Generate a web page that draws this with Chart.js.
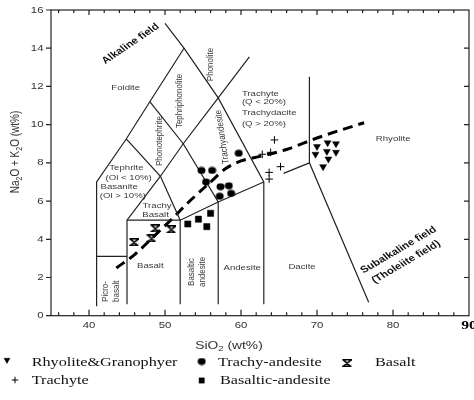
<!DOCTYPE html>
<html>
<head>
<meta charset="utf-8">
<script src="https://cdn.jsdelivr.net/npm/chart.js@4.4.1/dist/chart.umd.min.js"></script>
<style>
  html, body { margin: 0; padding: 0; background: #fff; }
  canvas { display: block; }
</style>
</head>
<body>
<canvas id="tas" width="474" height="400"></canvas>
<script>
// ---- Sample groups: SiO2 (wt%) vs Na2O + K2O (wt%) ----
const rhyoliteSiO2 = [70.0, 71.4, 72.5, 69.8, 71.3, 72.5, 71.5, 70.8];
const rhyoliteAlk  = [8.85, 9.05, 9.0, 8.45, 8.6, 8.55, 8.2, 7.8];
const trachyteSiO2 = [64.4, 62.8, 63.9, 63.7, 63.7, 65.2];
const trachyteAlk  = [9.2, 8.45, 8.55, 7.5, 7.15, 7.8];
const trAndSiO2    = [54.8, 56.2, 55.4, 57.3, 58.4, 57.2, 58.7, 59.7];
const trAndAlk     = [7.6, 7.6, 7.0, 6.75, 6.8, 6.25, 6.4, 8.5];
const basAndSiO2   = [53.0, 54.4, 56.0, 55.5];
const basAndAlk    = [4.8, 5.05, 5.36, 4.66];
const basaltSiO2   = [45.9, 48.2, 48.7, 50.8];
const basaltAlk    = [3.85, 4.05, 4.57, 4.52];

// ---- Field boundaries of the TAS classification (SiO2, alkali) ----
const fieldLines = [
  [[41, 0.5], [41, 7], [44.9, 9.25], [48, 11.2], [52.5, 14]],
  [[50, 15.3], [52.5, 14], [57, 11.4], [63, 7], [63, 0.6]],
  [[45, 0.6], [45, 5], [49.4, 7.3], [52.4, 9.0], [57, 11.4], [61.1, 13.55]],
  [[44.9, 9.25], [49.4, 7.3], [52, 5], [52, 0.6]],
  [[48, 11.2], [52.4, 9.0], [57, 5.95], [57, 0.6]],
  [[41, 3.1], [45, 3.1]],
  [[45, 5], [52, 5], [57, 5.95], [63, 7]],
  [[65.6, 7.45], [69, 8]],
  [[69, 12.5], [69, 8], [76.8, 0.7]]
];

// Alkaline / subalkaline divide
const dividerSiO2 = [43.6, 46, 48.4, 51, 53, 56, 58, 60, 62.6, 66, 70, 73, 76.2];
const dividerAlk  = [2.5, 3.2, 4.1, 5.1, 5.9, 7.0, 7.7, 8.1, 8.35, 8.7, 9.3, 9.7, 10.1];

// ---- Axis ticks ----
const xTickLabels = [40, 50, 60, 70, 80];
const xEndLabel = 90;
const yTickLabels = [0, 2, 4, 6, 8, 10, 12, 14, 16];
const xMinorTicks = [36, 38, 40, 42, 44, 46, 48, 50, 52, 54, 56, 58, 60, 62, 64, 66, 68, 70, 72, 74, 76, 78, 80, 82, 84, 86, 88];
const yRightTicks = [2, 4, 6, 8, 10, 12, 14];

// ---- Field names, placed in data coordinates ----
const fieldNames = [
  { t: 'Foidite', x: 44.83, y: 11.92 },
  { t: 'Tephriphonolite', x: 51.91, y: 11.24, rot: -90 },
  { t: 'Phonolite', x: 55.97, y: 13.15, rot: -90 },
  { t: 'Phonotephrite', x: 49.29, y: 9.14, rot: -90 },
  { t: 'Trachyandesite', x: 57.54, y: 9.36, rot: -97 },
  { t: 'Trachyte', x: 60.12, y: 11.64, align: 'left' },
  { t: '(Q < 20%)', x: 60.12, y: 11.17, align: 'left' },
  { t: 'Trachydacite', x: 60.12, y: 10.6, align: 'left' },
  { t: '(Q > 20%)', x: 60.12, y: 10.07, align: 'left' },
  { t: 'Rhyolite', x: 80.02, y: 9.24 },
  { t: 'Tephrite', x: 44.92, y: 7.72 },
  { t: '(Ol < 10%)', x: 45.22, y: 7.23 },
  { t: 'Basanite', x: 41.51, y: 6.75, align: 'left' },
  { t: '(Ol > 10%)', x: 41.42, y: 6.27, align: 'left' },
  { t: 'Trachy', x: 48.96, y: 5.77 },
  { t: 'Basalt', x: 48.76, y: 5.27 },
  { t: 'Basalt', x: 48.07, y: 2.6 },
  { t: 'Picro-', x: 42.21, y: 0.72, rot: -90, align: 'left' },
  { t: 'basalt', x: 43.65, y: 0.72, rot: -90, align: 'left' },
  { t: 'Basaltic', x: 53.48, y: 2.29, rot: -90 },
  { t: 'andesite', x: 54.92, y: 2.29, rot: -90 },
  { t: 'Andesite', x: 60.16, y: 2.5 },
  { t: 'Dacite', x: 68.03, y: 2.55 }
];
const seriesNames = [
  { t: 'Alkaline field', x: 45.48, y: 14.23, rot: -39 },
  { t: 'Subalkaline field', x: 80.74, y: 3.44, rot: -35 },
  { t: '(Tholeiite field)', x: 81.72, y: 2.81, rot: -35 }
];

const SX = 1.2;            // horizontal text stretch
const INK = '#222';
const SANS = '"Liberation Sans", Arial, sans-serif';
const SERIF = '"Liberation Serif", "Times New Roman", serif';

function pts(xs, ys) { return xs.map((x, i) => ({ x: x, y: ys[i] })); }

function makeMarker(w, h, draw) {
  const c = document.createElement('canvas');
  c.width = w; c.height = h;
  draw(c.getContext('2d'), w, h);
  return c;
}
// hourglass cross used for basalt
const hourglass = makeMarker(10, 8, (g, w, h) => {
  g.strokeStyle = '#000'; g.lineWidth = 1.6;
  g.beginPath();
  g.moveTo(0.5, 0.8); g.lineTo(w - 0.5, 0.8);
  g.lineTo(1.5, h - 0.8); g.lineTo(w - 0.5, h - 0.8);
  g.moveTo(0.5, h - 0.8); g.lineTo(1.5, h - 0.8);
  g.moveTo(1.5, 0.8); g.lineTo(w - 1.5, h - 0.8);
  g.stroke();
});
// slightly wide dot used for trachy-andesite
const dot = makeMarker(9, 8, (g, w, h) => {
  g.fillStyle = '#000';
  g.beginPath(); g.ellipse(w / 2, h / 2, 4, 3.4, 0, 0, Math.PI * 2); g.fill();
});

function txt(ctx, s, x, y, o) {
  ctx.save();
  ctx.translate(x, y);
  ctx.scale(SX, 1);
  if (o.rot) ctx.rotate(o.rot * Math.PI / 180);
  ctx.font = o.font;
  ctx.fillStyle = o.color || '#333';
  ctx.textAlign = o.align || 'center';
  ctx.textBaseline = o.base || 'middle';
  ctx.fillText(s, 0, 0);
  ctx.restore();
}

// text with subscript parts: [[string, isSub], ...]
function richTxt(ctx, parts, x, y, size, rot) {
  ctx.save();
  ctx.translate(x, y);
  ctx.scale(SX, 1);
  if (rot) ctx.rotate(rot * Math.PI / 180);
  ctx.fillStyle = '#333';
  ctx.textBaseline = 'alphabetic';
  ctx.textAlign = 'left';
  const fMain = size + 'px ' + SANS, fSub = (size * 0.7) + 'px ' + SANS;
  let total = 0;
  parts.forEach(p => { ctx.font = p[1] ? fSub : fMain; total += ctx.measureText(p[0]).width; });
  let cx = -total / 2;
  parts.forEach(p => {
    ctx.font = p[1] ? fSub : fMain;
    ctx.fillText(p[0], cx, p[1] ? size * 0.55 : size * 0.36);
    cx += ctx.measureText(p[0]).width;
  });
  ctx.restore();
}

const pointSets = [
  { label: 'Rhyolite&Granophyer', data: pts(rhyoliteSiO2, rhyoliteAlk), pointStyle: 'triangle', rotation: 180, pointRadius: 4, backgroundColor: '#000', borderColor: '#000', borderWidth: 0.5 },
  { label: 'Trachyte', data: pts(trachyteSiO2, trachyteAlk), pointStyle: 'cross', pointRadius: 3.8, backgroundColor: '#000', borderColor: '#000', borderWidth: 1 },
  { label: 'Trachy-andesite', data: pts(trAndSiO2, trAndAlk), pointStyle: dot, pointRadius: 4, backgroundColor: '#000', borderColor: '#000' },
  { label: 'Basaltic-andesite', data: pts(basAndSiO2, basAndAlk), pointStyle: 'rect', pointRadius: 4.4, backgroundColor: '#000', borderColor: '#000', borderWidth: 0.5 },
  { label: 'Basalt', data: pts(basaltSiO2, basaltAlk), pointStyle: hourglass, pointRadius: 4, backgroundColor: '#000', borderColor: '#000' }
];
pointSets.forEach(d => { d.showLine = false; });

const lineSets = fieldLines.map(seg => ({
  label: '', data: seg.map(p => ({ x: p[0], y: p[1] })), showLine: true,
  borderColor: INK, borderWidth: 1.2, pointRadius: 0, tension: 0, fill: false
}));
lineSets.push({
  label: '', data: pts(dividerSiO2, dividerAlk), showLine: true,
  borderColor: '#000', borderWidth: 3, borderDash: [10, 6], pointRadius: 0,
  cubicInterpolationMode: 'monotone', fill: false
});

// legend arrangement: dataset index with marker/text position
const legendSlots = [
  { ds: 0, mx: 7, my: 360, tx: 31.7, ty: 362 },
  { ds: 2, mx: 201.7, my: 361.5, tx: 218, ty: 362 },
  { ds: 4, mx: 346.7, my: 363, tx: 375, ty: 362 },
  { ds: 1, mx: 15, my: 380, tx: 31.7, ty: 380.5 },
  { ds: 3, mx: 201.7, my: 380.5, tx: 220, ty: 380.5 }
];

const decor = {
  id: 'decor',
  beforeDatasetsDraw(chart) {
    const ctx = chart.ctx, xs = chart.scales.x, ys = chart.scales.y;
    const regFont = '8px ' + SANS;
    fieldNames.forEach(n => {
      txt(ctx, n.t, xs.getPixelForValue(n.x), ys.getPixelForValue(n.y),
        { font: regFont, rot: n.rot, align: n.align, color: '#3a3a3a' });
    });
    const boldFont = 'bold 9.5px ' + SANS;
    seriesNames.forEach(n => {
      txt(ctx, n.t, xs.getPixelForValue(n.x), ys.getPixelForValue(n.y),
        { font: boldFont, rot: n.rot, color: '#111' });
    });
  },
  afterDraw(chart) {
    const ctx = chart.ctx, a = chart.chartArea, xs = chart.scales.x, ys = chart.scales.y;
    ctx.save();
    ctx.strokeStyle = INK;
    ctx.lineWidth = 1.2;
    ctx.strokeRect(a.left, a.top, a.right - a.left, a.bottom - a.top);
    ctx.beginPath();
    xMinorTicks.forEach(v => {
      const px = xs.getPixelForValue(v), major = v % 10 === 0;
      ctx.moveTo(px, a.bottom); ctx.lineTo(px, a.bottom - (major ? 6 : 3.5));
      ctx.moveTo(px, a.top); ctx.lineTo(px, a.top + (major ? 5 : 3));
    });
    yTickLabels.forEach(v => {
      const py = ys.getPixelForValue(v);
      ctx.moveTo(a.left, py); ctx.lineTo(a.left - 5, py);
    });
    yRightTicks.forEach(v => {
      const py = ys.getPixelForValue(v);
      ctx.moveTo(a.right, py); ctx.lineTo(a.right - 5, py);
    });
    ctx.stroke();
    ctx.restore();

    const tickFont = '9.5px ' + SANS;
    xTickLabels.forEach(v => {
      txt(ctx, String(v), xs.getPixelForValue(v), a.bottom + 10, { font: tickFont, color: '#333' });
    });
    txt(ctx, String(xEndLabel), xs.getPixelForValue(xEndLabel), a.bottom + 9.5,
      { font: 'bold 13px ' + SERIF, color: '#000' });
    yTickLabels.forEach(v => {
      txt(ctx, String(v), a.left - 7.5, ys.getPixelForValue(v), { font: tickFont, align: 'right', color: '#333' });
    });

    richTxt(ctx, [['SiO', false], ['2', true], [' (wt%)', false]], 229, 345, 11.5, 0);
    richTxt(ctx, [['Na', false], ['2', true], ['O + K', false], ['2', true], ['O (wt%)', false]], 15, 152, 10, -90);

    // legend
    const draw = Chart.helpers && Chart.helpers.drawPoint;
    legendSlots.forEach(s => {
      const d = chart.data.datasets[s.ds];
      ctx.save();
      ctx.fillStyle = '#000'; ctx.strokeStyle = '#000';
      ctx.lineWidth = d.borderWidth || 1;
      if (draw) {
        draw(ctx, { pointStyle: d.pointStyle, rotation: d.rotation || 0, radius: d.pointRadius * 0.85, borderWidth: d.borderWidth || 1 }, s.mx, s.my);
      }
      ctx.restore();
      txt(ctx, d.label, s.tx, s.ty, { font: '13.5px ' + SERIF, align: 'left', color: '#111' });
    });
  }
};

new Chart(document.getElementById('tas'), {
  type: 'scatter',
  data: { datasets: pointSets.concat(lineSets) },
  options: {
    responsive: false,
    animation: false,
    events: [],
    layout: { padding: { top: 10, right: 3.3, left: 0, bottom: 0 } },
    plugins: { legend: { display: false }, tooltip: { enabled: false } },
    scales: {
      x: {
        type: 'linear', min: 35, max: 90,
        grid: { display: false }, border: { display: false }, ticks: { display: false },
        afterFit(s) { s.height = 84.3; }
      },
      y: {
        type: 'linear', min: 0, max: 16,
        grid: { display: false }, border: { display: false }, ticks: { display: false },
        afterFit(s) { s.width = 51; }
      }
    }
  },
  plugins: [decor]
});
</script>
</body>
</html>
